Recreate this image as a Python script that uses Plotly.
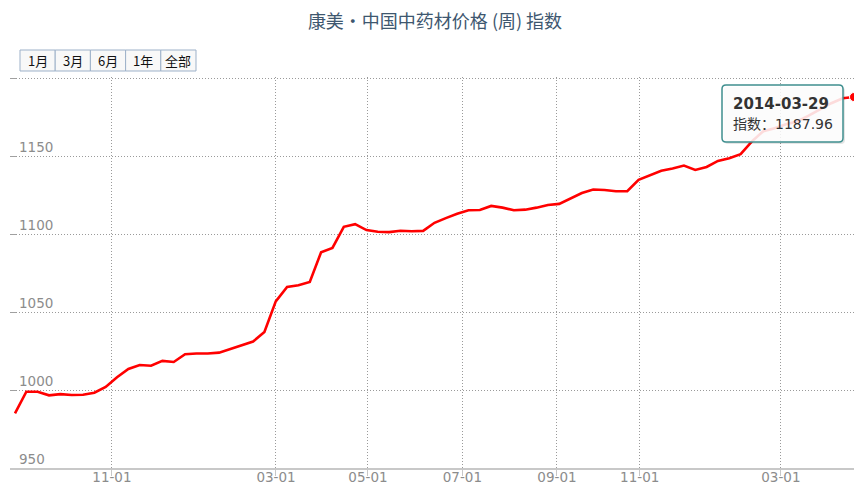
import plotly.graph_objects as go

# ---------------- data ----------------
title_text = "康美·中国中药材价格 (周) 指数"
index_values = [
    985.0, 998.9, 998.9, 996.6, 997.4, 996.8, 997.0, 998.3, 1002.0, 1008.2,
    1013.5, 1016.1, 1015.6, 1018.7, 1018.0, 1023.0, 1023.4, 1023.4, 1024.0, 1026.2,
    1028.8, 1031.1, 1037.2, 1056.9, 1066.1, 1067.2, 1069.3, 1088.4, 1091.2, 1104.7,
    1106.4, 1102.6, 1101.5, 1101.3, 1102.2, 1101.9, 1102.1, 1107.3, 1110.3, 1113.1,
    1115.3, 1115.5, 1118.1, 1117.0, 1115.3, 1115.7, 1117.0, 1118.7, 1119.4, 1123.0,
    1126.4, 1128.6, 1128.3, 1127.5, 1127.5, 1134.8, 1137.8, 1140.6, 1142.1, 1144.0,
    1141.2, 1143.1, 1147.0, 1148.7, 1151.3, 1159.5, 1166.0, 1168.0, 1170.5, 1172.3,
    1176.0, 1180.0, 1184.0, 1187.2, 1187.96,
]
x_tick_labels = ["11-01", "03-01", "05-01", "07-01", "09-01", "11-01", "03-01"]
y_tick_values = [950, 1000, 1050, 1100, 1150, 1200]
y_tick_labels = ["950", "1000", "1050", "1100", "1150", ""]
range_buttons = ["1月", "3月", "6月", "1年", "全部"]
tooltip_date = "2014-03-29"
tooltip_label = "指数"

# ---------------- layout helpers ----------------
W, H = 854, 486
ML, MR, MT, MB = 10, 0, 77, 18
PW, PH = W - ML - MR, H - MT - MB

def px(xp):
    return (xp - ML) / PW

def py(yp):
    return (H - MB - yp) / PH

x_idx = list(range(len(index_values)))
# ordinal tick positions (in point-index units)
x_tick_pos = [8.55, 23.02, 31.13, 39.46, 47.8, 55.1, 67.55]

fig = go.Figure()
fig.add_trace(go.Scatter(
    x=x_idx, y=index_values, mode="lines",
    line=dict(color="#FF0000", width=2.6),
    hoverinfo="skip", showlegend=False,
))
fig.add_trace(go.Scatter(
    x=[x_idx[-1]], y=[index_values[-1]], mode="markers",
    marker=dict(color="#FF0000", size=9, line=dict(color="#FFFFFF", width=1)),
    hoverinfo="skip", showlegend=False,
))

label_font = dict(family="DejaVu Sans, Verdana, sans-serif", size=13.5, color="#8C8C8C")

fig.update_layout(
    width=W, height=H,
    margin=dict(l=ML, r=MR, t=MT, b=MB, pad=0, autoexpand=False),
    paper_bgcolor="white", plot_bgcolor="white",
    title=dict(
        text=title_text, x=435 / W, xanchor="center", y=1 - 22 / H, yanchor="middle",
        automargin=False,
        font=dict(family="Noto Sans CJK SC, sans-serif", size=18, color="#3E576F"),
    ),
    xaxis=dict(
        range=[-0.44, 74.0], tickmode="array", tickvals=x_tick_pos, ticktext=x_tick_labels,
        showgrid=True, gridcolor="#9A9A9A", griddash="1px,2px", gridwidth=1,
        showline=True, linecolor="#C8C8C8", linewidth=2,
        ticks="outside", ticklen=6, tickcolor="#C8C8C8", tickwidth=1,
        ticklabelstandoff=-10,
        tickfont=label_font, zeroline=False, fixedrange=True, automargin=False,
    ),
    yaxis=dict(
        range=[950, 1200.8], tickmode="array", tickvals=y_tick_values, ticktext=y_tick_labels,
        showgrid=True, gridcolor="#9A9A9A", griddash="1px,2px", gridwidth=1,
        showline=False, ticks="inside", ticklen=6, tickcolor="#A0A0A0", tickwidth=1,
        ticklabelposition="inside top", ticklabelstandoff=6, ticklabelshift=1,
        tickfont=label_font, zeroline=False,
        fixedrange=True, automargin=False,
    ),
)

shapes = []
annotations = []

# range selector buttons
bx0, bw, by0, by1 = 20, 35.2, 50, 71
for i, lab in enumerate(range_buttons):
    x0 = bx0 + i * bw
    shapes.append(dict(type="rect", xref="paper", yref="paper",
                       x0=px(x0), x1=px(x0 + bw), y0=py(by1), y1=py(by0),
                       line=dict(color="#9DB1C9", width=1), fillcolor="#F8F8F8",
                       layer="above"))
    annotations.append(dict(xref="paper", yref="paper", x=px(x0 + bw / 2), y=py((by0 + by1) / 2),
                            text=lab, showarrow=False, xanchor="center", yanchor="middle",
                            font=dict(family="Noto Sans CJK SC, sans-serif", size=13, color="#111111")))

# tooltip (rounded box)
tx0, ty0, tx1, ty1, r = 722, 85, 843, 142, 4
def rounded_path(x0, y0, x1, y1, r):
    X = lambda v: px(v)
    Y = lambda v: py(v)
    return (f"M {X(x0+r)},{Y(y0)} L {X(x1-r)},{Y(y0)} Q {X(x1)},{Y(y0)} {X(x1)},{Y(y0+r)} "
            f"L {X(x1)},{Y(y1-r)} Q {X(x1)},{Y(y1)} {X(x1-r)},{Y(y1)} "
            f"L {X(x0+r)},{Y(y1)} Q {X(x0)},{Y(y1)} {X(x0)},{Y(y1-r)} "
            f"L {X(x0)},{Y(y0+r)} Q {X(x0)},{Y(y0)} {X(x0+r)},{Y(y0)} Z")

shapes.append(dict(type="path", xref="paper", yref="paper",
                   path=rounded_path(tx0 + 2, ty0 + 2, tx1 + 2, ty1 + 2, r),
                   line=dict(width=0), fillcolor="rgba(0,0,0,0.10)", layer="above"))
shapes.append(dict(type="path", xref="paper", yref="paper",
                   path=rounded_path(tx0, ty0, tx1, ty1, r),
                   line=dict(color="#3F8F8F", width=1.5), fillcolor="rgba(255,255,255,0.86)",
                   layer="above"))
annotations.append(dict(xref="paper", yref="paper", x=px(731), y=py(103.5), text=f"<b>{tooltip_date}</b>",
                        showarrow=False, xanchor="left", yanchor="middle",
                        font=dict(family="DejaVu Sans, sans-serif", size=15, color="#333333")))
annotations.append(dict(xref="paper", yref="paper", x=px(731), y=py(123.5),
                        text=f"{tooltip_label}：{index_values[-1]:.2f}",
                        showarrow=False, xanchor="left", yanchor="middle",
                        font=dict(family="DejaVu Sans, Noto Sans CJK SC, sans-serif", size=14, color="#333333")))

fig.update_layout(shapes=shapes, annotations=annotations)
fig.write_html("out.html", config={"displayModeBar": False},
               post_script="document.body.style.margin='0px';document.body.style.overflow='hidden';")
